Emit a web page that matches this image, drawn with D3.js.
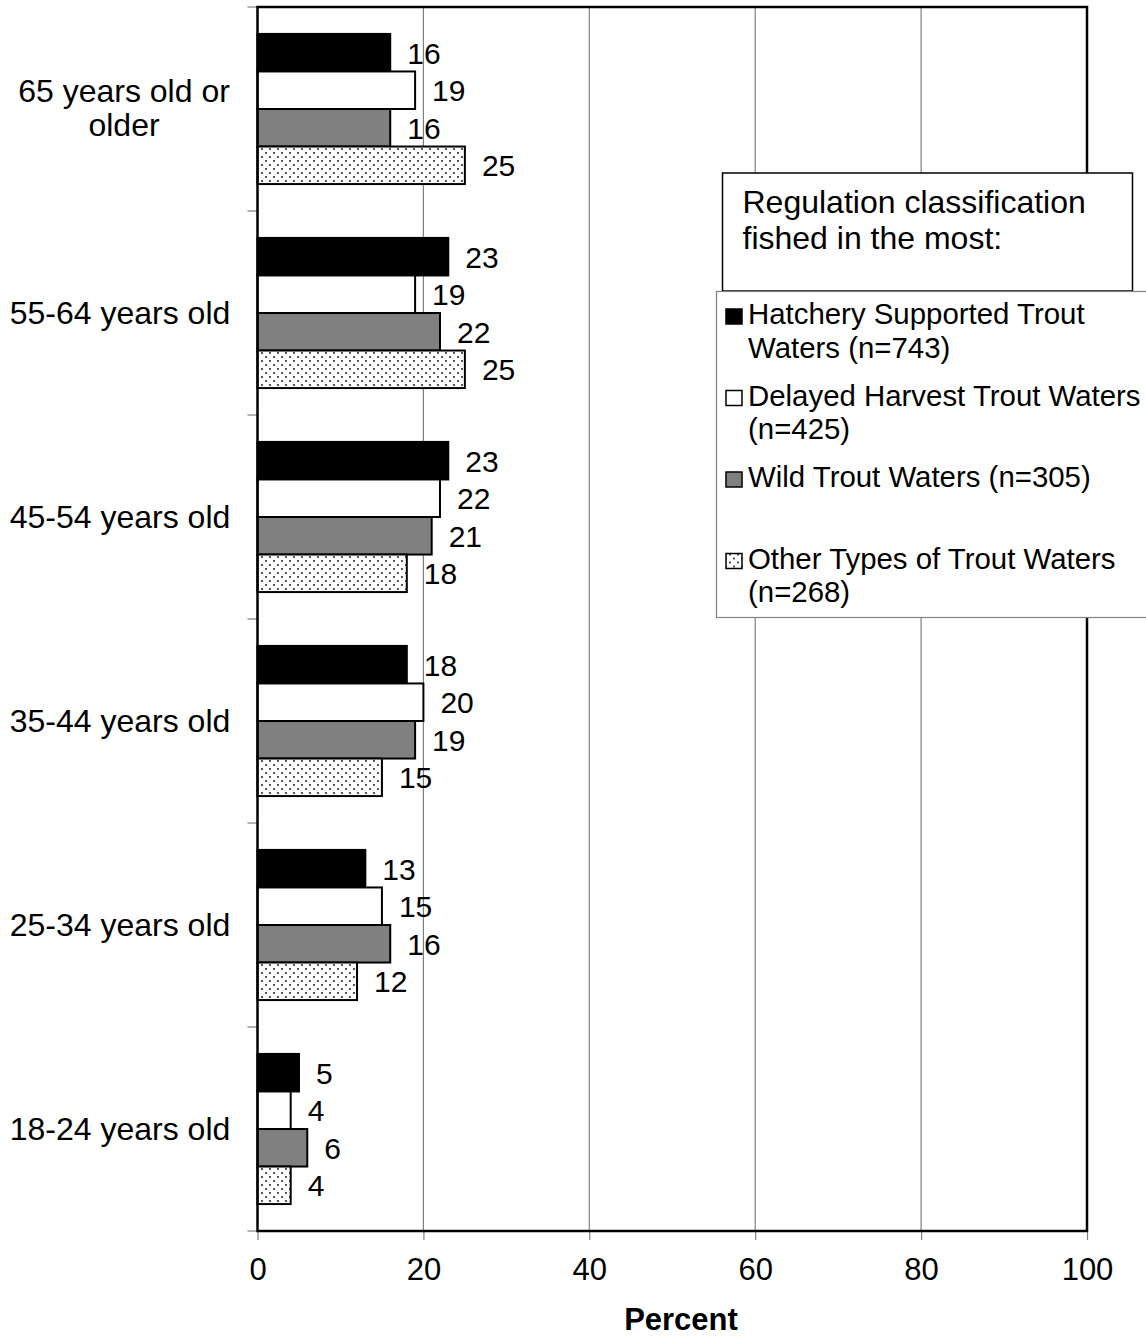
<!DOCTYPE html>
<html>
<head>
<meta charset="utf-8">
<script src="https://cdn.jsdelivr.net/npm/d3@7"></script>
<style>
  html, body { margin: 0; padding: 0; background: #fff; }
  svg { display: block; font-family: "Liberation Sans", Arial, Helvetica, sans-serif; }
</style>
</head>
<body>
<svg id="chart" width="1146" height="1339"></svg>
<script>
// Age groups, top to bottom
const categories = ["65 years old or older", "55-64 years old", "45-54 years old",
                    "35-44 years old", "25-34 years old", "18-24 years old"];
const categoryLines = [["65 years old or", "older"], ["55-64 years old"], ["45-54 years old"],
                       ["35-44 years old"], ["25-34 years old"], ["18-24 years old"]];

// Regulation classification fished in the most (percent of anglers in each age group)
const seriesNames = ["Hatchery Supported Trout Waters (n=743)",
                     "Delayed Harvest Trout Waters (n=425)",
                     "Wild Trout Waters (n=305)",
                     "Other Types of Trout Waters (n=268)"];
const legendLines = [["Hatchery Supported Trout", "Waters (n=743)"],
                     ["Delayed Harvest Trout Waters", "(n=425)"],
                     ["Wild Trout Waters (n=305)"],
                     ["Other Types of Trout Waters", "(n=268)"]];
const hatchery = [16, 23, 23, 18, 13, 5];
const delayed  = [19, 19, 22, 20, 15, 4];
const wild     = [16, 22, 21, 19, 16, 6];
const other    = [25, 25, 18, 15, 12, 4];

const xTicks = [0, 20, 40, 60, 80, 100];
const xTitle = "Percent";
const legendTitle = ["Regulation classification", "fished in the most:"];

const seriesValues = [hatchery, delayed, wild, other];
const rows = categories.map((c, i) => ({
  category: c,
  values: seriesNames.map((s, j) => ({ series: s, idx: j, value: seriesValues[j][i] }))
}));

const svg = d3.select("#chart");
const FONT_VALUE = 30;
const FONT_TICK = 31;
const FONT_CAT = 32;
const FONT_LEGEND = 29.4;
const FONT_LEGEND_TITLE = 32;
const FONT_TITLE = 31;

// Plot frame
const plot = { left: 257.5, right: 1087, top: 7, bottom: 1231 };

const x = d3.scaleLinear().domain([0, 100]).range([plot.left, plot.right]);
const y0 = d3.scaleBand().domain(categories).range([plot.top, plot.bottom]).padding(0);
const groupPad = y0.bandwidth() * 0.132;
const y1 = d3.scaleBand().domain(seriesNames).range([groupPad, y0.bandwidth() - groupPad]).padding(0);

// Fills
const defs = svg.append("defs");
const pat = defs.append("pattern")
  .attr("id", "stipple").attr("patternUnits", "userSpaceOnUse")
  .attr("width", 8).attr("height", 8);
pat.append("rect").attr("width", 8).attr("height", 8).attr("fill", "#fff");
pat.append("circle").attr("cx", 2).attr("cy", 2).attr("r", 1.05).attr("fill", "#2a2a2a");
pat.append("circle").attr("cx", 6).attr("cy", 6).attr("r", 1.05).attr("fill", "#2a2a2a");

const fills = ["#000000", "#ffffff", "#808080", "url(#stipple)"];

// Vertical gridlines
svg.append("g")
  .selectAll("line")
  .data(xTicks.filter(t => t > 0 && t < 100))
  .join("line")
  .attr("x1", d => x(d)).attr("x2", d => x(d))
  .attr("y1", plot.top).attr("y2", plot.bottom)
  .attr("stroke", "#808080").attr("stroke-width", 1.2);

// Bottom axis ticks and labels
const xAxis = d3.axisBottom(x).tickValues(xTicks).tickSize(9).tickPadding(16).tickFormat(d3.format("d"));
const gx = svg.append("g").attr("transform", `translate(0,${plot.bottom})`).call(xAxis);
gx.select(".domain").remove();
gx.selectAll(".tick line").attr("stroke", "#808080").attr("stroke-width", 1.2);
gx.selectAll(".tick text")
  .attr("font-size", FONT_TICK).attr("fill", "#000")
  .attr("font-family", "Liberation Sans, Arial, sans-serif")
  .attr("dy", null).attr("y", 49);

// Left axis ticks at category boundaries
const boundaries = categories.map(c => y0(c)).concat([plot.bottom]);
svg.append("g")
  .selectAll("line")
  .data(boundaries)
  .join("line")
  .attr("x1", plot.left - 10).attr("x2", plot.left)
  .attr("y1", d => d).attr("y2", d => d)
  .attr("stroke", "#808080").attr("stroke-width", 1.2);

// Bars
const groups = svg.append("g")
  .selectAll("g")
  .data(rows)
  .join("g")
  .attr("transform", d => `translate(0,${y0(d.category)})`);

groups.selectAll("rect")
  .data(d => d.values)
  .join("rect")
  .attr("x", x(0))
  .attr("y", d => y1(d.series))
  .attr("width", d => x(d.value) - x(0))
  .attr("height", y1.bandwidth())
  .attr("fill", d => fills[d.idx])
  .attr("stroke", "#000")
  .attr("stroke-width", 2);

// Value labels
groups.selectAll("text")
  .data(d => d.values)
  .join("text")
  .attr("x", d => x(d.value) + 17)
  .attr("y", d => y1(d.series) + y1.bandwidth() / 2 + 11)
  .attr("font-size", FONT_VALUE)
  .attr("fill", "#000")
  .text(d => d3.format("d")(d.value));

// Plot border
svg.append("rect")
  .attr("x", plot.left).attr("y", plot.top)
  .attr("width", plot.right - plot.left).attr("height", plot.bottom - plot.top)
  .attr("fill", "none").attr("stroke", "#000").attr("stroke-width", 2.5);

// Category labels
const catG = svg.append("g");
categories.forEach((c, i) => {
  const lines = categoryLines[i];
  const cy = y0(c) + y0.bandwidth() / 2;
  const t = catG.append("text")
    .attr("text-anchor", "middle")
    .attr("font-size", FONT_CAT)
    .attr("fill", "#000");
  lines.forEach((ln, k) => {
    t.append("tspan")
      .attr("x", lines.length > 1 ? 124 : 120)
      .attr("y", cy + 11 + (k - (lines.length - 1) / 2) * 34 - (lines.length > 1 ? 1.5 : 0))
      .text(ln);
  });
});

// X axis title
svg.append("text")
  .attr("x", 681).attr("y", 1330)
  .attr("text-anchor", "middle")
  .attr("font-size", FONT_TITLE).attr("font-weight", "bold")
  .text(xTitle);

// Legend title box
const titleBox = svg.append("g");
titleBox.append("rect")
  .attr("x", 722.5).attr("y", 173).attr("width", 410).attr("height", 118)
  .attr("fill", "#fff").attr("stroke", "#000").attr("stroke-width", 1.5);
legendTitle.forEach((ln, k) => {
  titleBox.append("text")
    .attr("x", 742.5).attr("y", 213 + k * 36)
    .attr("font-size", FONT_LEGEND_TITLE).attr("fill", "#000")
    .text(ln);
});

// Legend entries
const legend = svg.append("g");
legend.append("rect")
  .attr("x", 716.5).attr("y", 291.5).attr("width", 440).attr("height", 326)
  .attr("fill", "#fff").attr("stroke", "#808080").attr("stroke-width", 1.2);

const entry = legend.selectAll("g.entry")
  .data(seriesNames)
  .join("g")
  .attr("class", "entry")
  .attr("transform", (d, i) => `translate(0,${324 + i * 81.5})`);

entry.append("rect")
  .attr("x", 726).attr("y", -15).attr("width", 16).attr("height", 15)
  .attr("fill", (d, i) => fills[i])
  .attr("stroke", "#000").attr("stroke-width", 1.5);

entry.append("text")
  .attr("font-size", FONT_LEGEND).attr("fill", "#000")
  .each(function(d, i) {
    const t = d3.select(this);
    legendLines[i].forEach((ln, k) => {
      t.append("tspan").attr("x", 748).attr("y", k * 33.5).text(ln);
    });
  });
</script>
</body>
</html>
